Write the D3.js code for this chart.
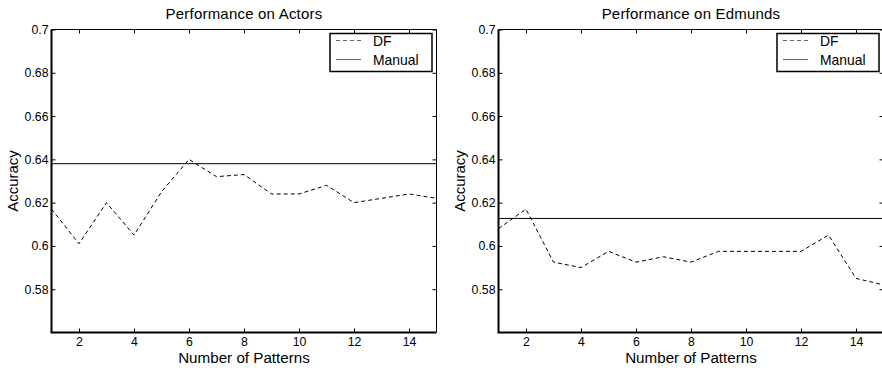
<!DOCTYPE html>
<html>
<head>
<meta charset="utf-8">
<script src="https://cdn.jsdelivr.net/npm/d3@7"></script>
<style>
  html, body { margin: 0; padding: 0; background: #fff; }
  svg text { font-family: "Liberation Sans", Arial, Helvetica, sans-serif; fill: #000; }
  .axis path.domain { display: none; }
  .axis line { stroke: #000; stroke-width: 1; }
  .axis text { font-size: 12.3px; }
  .frame-thick { stroke: #000; stroke-width: 2; fill: none; }
  .frame-thin { stroke: #000; stroke-width: 1; fill: none; }
  .df-line { fill: none; stroke: #000; stroke-width: 1; stroke-dasharray: 4,3; }
  .manual-line { stroke: #000; stroke-width: 1; }
</style>
</head>
<body>
<div id="chart"></div>
<script>
// Data
var patterns = [1, 2, 3, 4, 5, 6, 7, 8, 9, 10, 11, 12, 13, 14, 15];

var actorsDF = [0.617, 0.601, 0.620, 0.605, 0.625, 0.640, 0.632, 0.633, 0.624, 0.624, 0.628, 0.620, 0.622, 0.624, 0.622];
var actorsManual = 0.638;

var edmundsDF = [0.608, 0.617, 0.5925, 0.590, 0.5975, 0.5925, 0.595, 0.5925, 0.5975, 0.5975, 0.5975, 0.5975, 0.605, 0.585, 0.582];
var edmundsManual = 0.6127;

var xTicks = [2, 4, 6, 8, 10, 12, 14];
var yTicks = [0.58, 0.6, 0.62, 0.64, 0.66, 0.68, 0.7];
var xDomain = [1, 15];
var yDomain = [0.56, 0.7];

var legendLabels = ["DF", "Manual"];

var width = 882;
var height = 368;

var svg = d3.select("#chart")
  .append("svg")
  .attr("width", width)
  .attr("height", height);

var renderPanel = function(config) {
  var m = config.margins;
  var chartWidth = m.right - m.left;
  var chartHeight = m.bottom - m.top;

  var g = svg.append("g")
    .attr("transform", `translate(${m.left},${m.top})`);

  var xScale = d3.scaleLinear().domain(xDomain).range([0, chartWidth]);
  var yScale = d3.scaleLinear().domain(yDomain).range([chartHeight, 0]);

  // Axes with inward ticks on all four sides
  g.append("g")
    .attr("class", "axis")
    .attr("transform", `translate(0,${chartHeight})`)
    .call(d3.axisBottom(xScale).tickValues(xTicks).tickSize(-4).tickSizeOuter(0).tickPadding(5).tickFormat(d => String(d)));

  g.append("g")
    .attr("class", "axis")
    .call(d3.axisTop(xScale).tickValues(xTicks).tickSize(-4).tickSizeOuter(0).tickFormat(""));

  g.append("g")
    .attr("class", "axis")
    .call(d3.axisLeft(yScale).tickValues(yTicks).tickSize(-4).tickSizeOuter(0).tickPadding(3).tickFormat(d => String(d)));

  g.append("g")
    .attr("class", "axis")
    .attr("transform", `translate(${chartWidth},0)`)
    .call(d3.axisRight(yScale).tickValues(yTicks).tickSize(-4).tickSizeOuter(0).tickFormat(""));

  // Frame: thin top/right, thick left/bottom
  g.append("path")
    .attr("class", "frame-thin")
    .attr("d", `M0,0H${chartWidth}V${chartHeight}`);
  g.append("path")
    .attr("class", "frame-thick")
    .attr("d", `M0,0V${chartHeight}H${chartWidth}`);

  // Manual (flat line)
  g.append("line")
    .attr("class", "manual-line")
    .attr("x1", xScale(xDomain[0]))
    .attr("x2", xScale(xDomain[1]))
    .attr("y1", yScale(config.manual))
    .attr("y2", yScale(config.manual));

  // DF (dashed)
  var line = d3.line()
    .x((d, i) => xScale(patterns[i]))
    .y(d => yScale(d));

  g.append("path")
    .datum(config.df)
    .attr("class", "df-line")
    .attr("d", line);

  // Title and axis labels
  g.append("text")
    .attr("x", chartWidth / 2)
    .attr("y", -10.5)
    .attr("text-anchor", "middle")
    .style("font-size", "15px")
    .style("letter-spacing", "0.2px")
    .text(config.title);

  g.append("text")
    .attr("x", chartWidth / 2)
    .attr("y", chartHeight + 30.5)
    .attr("text-anchor", "middle")
    .style("font-size", "15.2px")
    .text("Number of Patterns");

  g.append("text")
    .attr("transform", `translate(${config.yLabelX},${chartHeight / 2}) rotate(-90)`)
    .attr("text-anchor", "middle")
    .style("font-size", "15px")
    .text("Accuracy");

  // Legend
  var lw = 102, lh = 38;
  var legend = g.append("g")
    .attr("transform", `translate(${chartWidth - lw - 4.5},${4})`);

  legend.append("rect")
    .attr("width", lw)
    .attr("height", lh)
    .attr("fill", "#fff")
    .attr("stroke", "#000")
    .attr("stroke-width", 1.5);

  legendLabels.forEach(function(label, i) {
    var ly = 7 + i * 19;
    legend.append("line")
      .attr("x1", 6)
      .attr("x2", 31)
      .attr("y1", ly)
      .attr("y2", ly)
      .attr("stroke", "#666")
      .attr("stroke-width", 1)
      .attr("stroke-dasharray", i === 0 ? "4,3" : null);
    legend.append("text")
      .attr("x", 43)
      .attr("y", ly + 5)
      .style("font-size", "13.9px")
      .text(label);
  });
};

renderPanel({
  title: "Performance on Actors",
  df: actorsDF,
  manual: actorsManual,
  margins: { left: 51.5, right: 436.5, top: 29.5, bottom: 332.5 },
  yLabelX: -34
});

renderPanel({
  title: "Performance on Edmunds",
  df: edmundsDF,
  manual: edmundsManual,
  margins: { left: 498.5, right: 883.5, top: 29.5, bottom: 332.5 },
  yLabelX: -34
});
</script>
</body>
</html>
